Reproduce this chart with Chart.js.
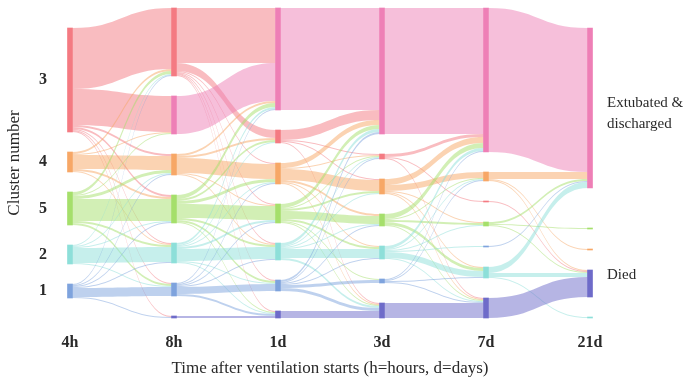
<!DOCTYPE html>
<html lang="en">
<head>
<meta charset="UTF-8">
<title>Cluster transitions after ventilation start</title>
<style>
  html, body { margin: 0; padding: 0; background: #fff; }
  #wrap { width: 690px; height: 381px; }
</style>
</head>
<body>
<div id="wrap"><canvas id="alluvial"></canvas></div>

<script src="https://cdn.jsdelivr.net/npm/chart.js"></script>
<script>
// time points on the x axis
const stageLabels = ['4h', '8h', '1d', '3d', '7d', '21d'];

// y axis labels (clusters as stacked at 4h)
const yTickStates = ['c3', 'c4', 'c5', 'c2', 'c1'];
const yTickLabels = ['3', '4', '5', '2', '1'];

// vertical order of the states at every time point (top to bottom)
const stageOrder = [
    ['ext', 'c3', 'c4', 'c5', 'c2', 'c1', 'died'],   // 4h
    ['c3', 'ext', 'c4', 'c5', 'c2', 'c1', 'died'],   // 8h
    ['ext', 'c3', 'c4', 'c5', 'c2', 'c1', 'died'],   // 1d
    ['ext', 'c3', 'c4', 'c5', 'c2', 'c1', 'died'],   // 3d
    ['ext', 'c4', 'c3', 'c5', 'c1', 'c2', 'died'],   // 7d
    ['c1', 'ext', 'c3', 'c5', 'c4', 'died', 'c2']    // 21d
];

// flows between consecutive time points: [from, to, patients]
const flows4hTo8h = [
    ['c3', 'c3', 61], ['c3', 'ext', 36], ['c3', 'c4', 2], ['c3', 'c5', 2], ['c3', 'c2', 1], ['c3', 'c1', 1], ['c3', 'died', 1],
    ['c4', 'c3', 2], ['c4', 'ext', 1], ['c4', 'c4', 14], ['c4', 'c5', 2], ['c4', 'c2', 1],
    ['c5', 'c3', 3], ['c5', 'ext', 1], ['c5', 'c4', 3], ['c5', 'c5', 22], ['c5', 'c2', 2], ['c5', 'c1', 2],
    ['c2', 'c3', 1], ['c2', 'c4', 1], ['c2', 'c5', 1], ['c2', 'c2', 15], ['c2', 'c1', 1],
    ['c1', 'c3', 1], ['c1', 'c4', 1], ['c1', 'c5', 1], ['c1', 'c2', 1], ['c1', 'c1', 9], ['c1', 'died', 1]
];
const flows8hTo1d = [
    ['c3', 'ext', 55], ['c3', 'c3', 8], ['c3', 'c4', 1], ['c3', 'c5', 1], ['c3', 'c2', 1], ['c3', 'c1', 1], ['c3', 'died', 1],
    ['ext', 'ext', 38],
    ['c4', 'ext', 2], ['c4', 'c3', 2], ['c4', 'c4', 15], ['c4', 'c5', 1], ['c4', 'c2', 1],
    ['c5', 'ext', 4], ['c5', 'c3', 2], ['c5', 'c4', 3], ['c5', 'c5', 14], ['c5', 'c2', 2], ['c5', 'c1', 2], ['c5', 'died', 1],
    ['c2', 'ext', 2], ['c2', 'c3', 1], ['c2', 'c4', 1], ['c2', 'c5', 2], ['c2', 'c2', 12], ['c2', 'c1', 1], ['c2', 'died', 1],
    ['c1', 'ext', 1], ['c1', 'c4', 1], ['c1', 'c5', 1], ['c1', 'c2', 1], ['c1', 'c1', 7], ['c1', 'died', 2],
    ['died', 'died', 2]
];
const flows1dTo3d = [
    ['ext', 'ext', 102],
    ['c3', 'ext', 10], ['c3', 'c3', 1], ['c3', 'c4', 1], ['c3', 'died', 1],
    ['c4', 'ext', 5], ['c4', 'c3', 1], ['c4', 'c4', 11], ['c4', 'c5', 2], ['c4', 'c2', 1], ['c4', 'died', 1],
    ['c5', 'ext', 4], ['c5', 'c3', 1], ['c5', 'c4', 2], ['c5', 'c5', 8], ['c5', 'c2', 2], ['c5', 'c1', 1], ['c5', 'died', 1],
    ['c2', 'ext', 3], ['c2', 'c3', 1], ['c2', 'c4', 1], ['c2', 'c5', 1], ['c2', 'c2', 9], ['c2', 'died', 2],
    ['c1', 'ext', 2], ['c1', 'c3', 1], ['c1', 'c5', 1], ['c1', 'c2', 1], ['c1', 'c1', 3], ['c1', 'died', 3],
    ['died', 'died', 7]
];
const flows3dTo7d = [
    ['ext', 'ext', 126],
    ['c3', 'ext', 3], ['c3', 'c3', 1], ['c3', 'died', 1],
    ['c4', 'ext', 6], ['c4', 'c4', 6], ['c4', 'c5', 1], ['c4', 'c2', 1], ['c4', 'died', 1],
    ['c5', 'ext', 5], ['c5', 'c4', 1], ['c5', 'c5', 2], ['c5', 'c2', 3], ['c5', 'died', 1],
    ['c2', 'ext', 3], ['c2', 'c4', 1], ['c2', 'c5', 1], ['c2', 'c1', 1], ['c2', 'c2', 6], ['c2', 'died', 1],
    ['c1', 'ext', 1], ['c1', 'c4', 1], ['c1', 'c2', 1], ['c1', 'died', 1],
    ['died', 'died', 15]
];
const flows7dTo21d = [
    ['ext', 'ext', 144],
    ['c4', 'ext', 7], ['c4', 'c4', 1], ['c4', 'died', 1],
    ['c3', 'died', 1],
    ['c5', 'ext', 2], ['c5', 'c5', 1], ['c5', 'died', 1],
    ['c1', 'ext', 1],
    ['c2', 'ext', 6], ['c2', 'died', 4], ['c2', 'c2', 1],
    ['died', 'died', 20]
];

const transitions = [flows4hTo8h, flows8hTo1d, flows1dTo3d, flows3dTo7d, flows7dTo21d];

// styling
const GAP = 20;          // space between stacked states, in patients
const NODE_W = 5;
const FLOW_ALPHA = 0.5;
const nodeColors = {
    c3: '#f47a82', c4: '#f7a766', c5: '#a5df6b', c2: '#8ddfd9',
    c1: '#7ea3dd', ext: '#ee7fb6', died: '#6e6bc9'
};
const textColor = '#2a2a2a';
const serif = '"Liberation Serif", "DejaVu Serif", serif';

function rgba(hex, a) {
    const n = parseInt(hex.slice(1), 16);
    return `rgba(${n >> 16},${(n >> 8) & 255},${n & 255},${a})`;
}

// stack the states at each time point (in data units)
let yMax = 0;
const nodes = stageOrder.map((order, s) => {
    const sizes = {};
    order.forEach(k => sizes[k] = 0);
    if (s === 0) transitions[0].forEach(([a, b, v]) => sizes[a] += v);
    else transitions[s - 1].forEach(([a, b, v]) => sizes[b] += v);
    const pos = {};
    let cursor = 0;
    order.forEach(k => {
        pos[k] = { y0: cursor, y1: cursor + sizes[k] };
        cursor += sizes[k] + GAP;
    });
    yMax = Math.max(yMax, cursor - GAP);
    return pos;
});

// where each flow leaves its source and enters its target
const ribbons = transitions.map((flows, s) => {
    const si = k => stageOrder[s].indexOf(k);
    const ti = k => stageOrder[s + 1].indexOf(k);
    const list = flows.map(([a, b, v]) => ({ a, b, v }));
    const outOff = {}, inOff = {};
    [...list].sort((p, q) => si(p.a) - si(q.a) || ti(p.b) - ti(q.b)).forEach(f => {
        const o = outOff[f.a] || 0;
        f.sy0 = nodes[s][f.a].y0 + o;
        f.sy1 = f.sy0 + f.v;
        outOff[f.a] = o + f.v;
    });
    [...list].sort((p, q) => ti(p.b) - ti(q.b) || si(p.a) - si(q.a)).forEach(f => {
        const o = inOff[f.b] || 0;
        f.ty0 = nodes[s + 1][f.b].y0 + o;
        f.ty1 = f.ty0 + f.v;
        inOff[f.b] = o + f.v;
    });
    return list;
});

const nodePoints = [];
nodes.forEach((pos, s) => {
    stageOrder[s].forEach(k => {
        if (pos[k].y1 > pos[k].y0) nodePoints.push({ x: s, y: [pos[k].y0, pos[k].y1], state: k });
    });
});

const yTickValues = yTickStates.map(k => (nodes[0][k].y0 + nodes[0][k].y1) / 2);

// flows drawn under the node bars, end labels on top
const flowPlugin = {
    id: 'flows',
    beforeDatasetsDraw(chart) {
        const { ctx, scales: { x, y } } = chart;
        ctx.save();
        ribbons.forEach((list, s) => {
            const x0 = x.getPixelForValue(s) + NODE_W / 2;
            const x1 = x.getPixelForValue(s + 1) - NODE_W / 2;
            const xm = (x0 + x1) / 2;
            list.forEach(f => {
                const a0 = y.getPixelForValue(f.sy0), a1 = y.getPixelForValue(f.sy1);
                const b0 = y.getPixelForValue(f.ty0), b1 = y.getPixelForValue(f.ty1);
                ctx.beginPath();
                ctx.moveTo(x0, a0);
                ctx.bezierCurveTo(xm, a0, xm, b0, x1, b0);
                ctx.lineTo(x1, b1);
                ctx.bezierCurveTo(xm, b1, xm, a1, x0, a1);
                ctx.closePath();
                ctx.fillStyle = rgba(nodeColors[f.a], FLOW_ALPHA);
                ctx.fill();
            });
        });
        ctx.restore();
    },
    afterDraw(chart) {
        const { ctx, scales: { x, y } } = chart;
        const last = nodes[nodes.length - 1];
        const xr = x.getPixelForValue(stageLabels.length - 1) + 17;
        const ec = y.getPixelForValue((last.ext.y0 + last.ext.y1) / 2);
        const dc = y.getPixelForValue((last.died.y0 + last.died.y1) / 2);
        ctx.save();
        ctx.font = '15px ' + serif;
        ctx.fillStyle = textColor;
        ctx.textAlign = 'left';
        ctx.textBaseline = 'middle';
        ctx.fillText('Extubated &', xr, ec - 5);
        ctx.fillText('discharged', xr, ec + 16);
        ctx.fillText('Died', xr, dc - 8);
        ctx.restore();
    }
};

new Chart(document.getElementById('alluvial'), {
    type: 'bar',
    data: {
        datasets: [{
            data: nodePoints,
            backgroundColor: nodePoints.map(p => nodeColors[p.state]),
            borderWidth: 0,
            barThickness: NODE_W,
            clip: false
        }]
    },
    options: {
        responsive: true,
        maintainAspectRatio: false,
        animation: false,
        layout: { padding: { top: 8, right: 100, bottom: 2, left: 1 } },
        plugins: {
            legend: { display: false },
            tooltip: { enabled: false }
        },
        scales: {
            x: {
                type: 'linear',
                min: 0,
                max: stageLabels.length - 1,
                offset: false,
                grid: { display: false, drawTicks: false, offset: false },
                border: { display: false },
                ticks: {
                    stepSize: 1,
                    autoSkip: false,
                    maxRotation: 0,
                    padding: 15,
                    color: textColor,
                    font: { family: serif, size: 16, weight: 'bold' },
                    callback: v => stageLabels[v]
                },
                title: {
                    display: true,
                    text: 'Time after ventilation starts (h=hours, d=days)',
                    color: textColor,
                    font: { family: serif, size: 17 },
                    padding: { top: 0, bottom: 0 }
                },
                afterFit: s => { s.height = 61; }
            },
            y: {
                type: 'linear',
                reverse: true,
                min: 0,
                max: yMax,
                grid: { display: false, drawTicks: false },
                border: { display: false },
                afterBuildTicks: s => { s.ticks = yTickValues.map(v => ({ value: v })); },
                ticks: {
                    padding: 23,
                    color: textColor,
                    font: { family: serif, size: 16, weight: 'bold' },
                    callback: (v, i) => yTickLabels[i]
                },
                title: {
                    display: true,
                    text: 'Cluster number',
                    color: textColor,
                    font: { family: serif, size: 17 },
                    padding: 3
                },
                afterFit: s => {
                    s.width = 69;
                    s.paddingTop = 0;
                    s.paddingBottom = 0;
                }
            }
        }
    },
    plugins: [flowPlugin]
});
</script>
</body>
</html>
